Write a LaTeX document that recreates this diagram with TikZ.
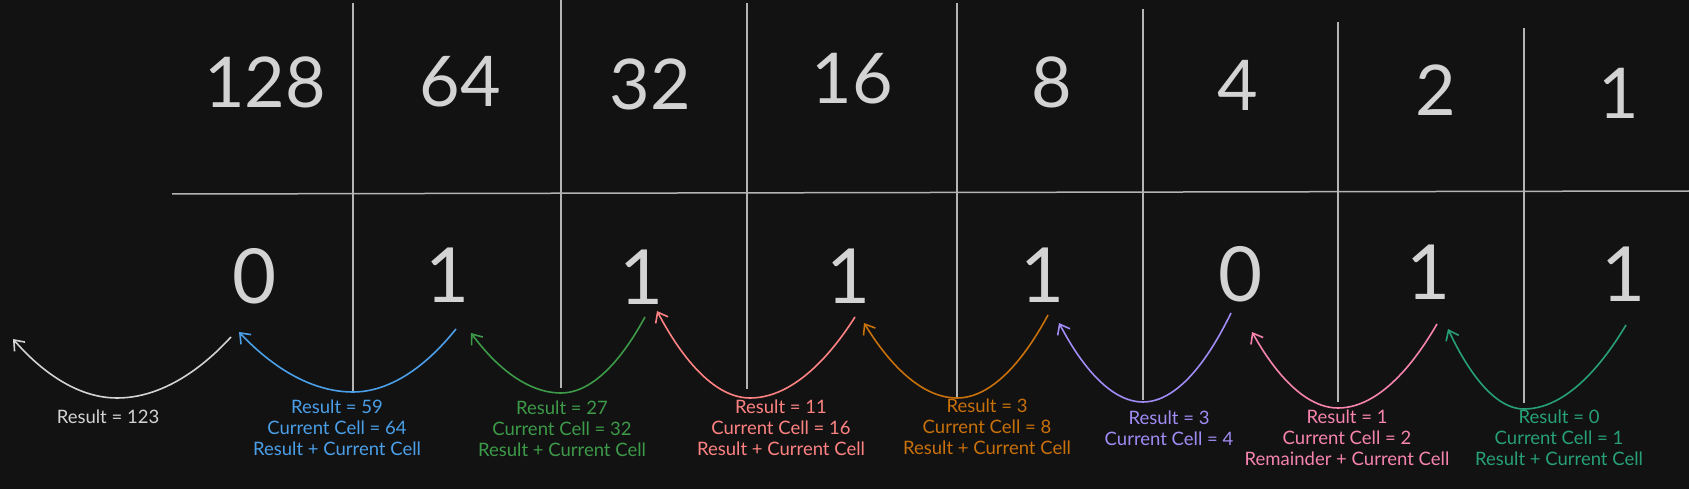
\documentclass[tikz,border=0pt]{standalone}
\usepackage{fontspec}
\setmainfont{Lato}
\usepackage{xcolor}
\usepackage{tikz}
\usetikzlibrary{arrows.meta}
\definecolor{bg}{HTML}{121212}
\definecolor{txtgray}{HTML}{D3D3D3}
\definecolor{linegray}{HTML}{B4B4B4}
\definecolor{cblue}{HTML}{4A9FE8}
\definecolor{cgreen}{HTML}{3C9A48}
\definecolor{cred}{HTML}{FF8282}
\definecolor{corange}{HTML}{C8700A}
\definecolor{cpurple}{HTML}{A18BF5}
\definecolor{cpink}{HTML}{F784AE}
\definecolor{cteal}{HTML}{27A077}
\tikzset{
    weight/.style = {
        text = txtgray, inner sep = 0pt,
        font = \fontsize{70}{70}\selectfont
    },
    bit/.style = {
        text = txtgray, inner sep = 0pt,
        font = \fontsize{76}{76}\selectfont
    },
    rule/.style = {draw = linegray, line width = 1.5pt},
    note/.style = {
        align = center, inner sep = 0pt,
        font = \fontsize{18.5}{21}\selectfont
    },
    hop/.style = {line width = 1.6pt, -{Straight Barb[length=9pt, width=14pt]}}
}

\begin{document}
\begin{tikzpicture}[x=1pt, y=-1pt]

    % Background
    \fill[bg] (0,0) rectangle (1689,489);
    \useasboundingbox (0,0) rectangle (1689,489);

    % Table lines
    \draw[rule] (172,194) -- (1689,191);
    \draw[rule] (353,3) -- (353,391);
    \draw[rule] (561,0) -- (561,388);
    \draw[rule] (747,3) -- (747,389);
    \draw[rule] (957,3) -- (957,397);
    \draw[rule] (1143,9) -- (1143,400);
    \draw[rule] (1338,22) -- (1338,402);
    \draw[rule] (1524,28) -- (1524,403);

    % Weights
    \node[weight] (w128) at (265,82) {128};
    \node[weight] (w64) at (460,82) {64};
    \node[weight] (w32) at (650,84) {32};
    \node[weight] (w16) at (852,79) {16};
    \node[weight] (w8) at (1052,82) {8};
    \node[weight] (w4) at (1238,85) {4};
    \node[weight] (w2) at (1436,90) {2};
    \node[weight] (w1) at (1619,93) {1};

    % Bits
    \node[bit] (b128) at (255,276) {0};
    \node[bit] (b64) at (448,275) {1};
    \node[bit] (b32) at (642,277) {1};
    \node[bit] (b16) at (849,276) {1};
    \node[bit] (b8) at (1043,275) {1};
    \node[bit] (b4) at (1241,274) {0};
    \node[bit] (b2) at (1429,272) {1};
    \node[bit] (b1) at (1624,274) {1};

    % Curve ends
    \coordinate (from1) at (1626,325);
    \coordinate (low1) at (1524,409);
    \coordinate (to1) at (1448,329);
    \coordinate (from2) at (1437,324);
    \coordinate (low2) at (1338,408);
    \coordinate (to2) at (1252,332);
    \coordinate (from4) at (1231,313);
    \coordinate (low4) at (1143,402);
    \coordinate (to4) at (1059,323);
    \coordinate (from8) at (1048,315);
    \coordinate (low8) at (957,398);
    \coordinate (to8) at (864,323);
    \coordinate (from16) at (855,317);
    \coordinate (low16) at (750,398);
    \coordinate (to16) at (657,311);
    \coordinate (from32) at (645,317);
    \coordinate (low32) at (561,393);
    \coordinate (to32) at (471,333);
    \coordinate (from64) at (456,329);
    \coordinate (low64) at (353,392);
    \coordinate (to64) at (239,332);
    \coordinate (fromEnd) at (231,337);
    \coordinate (lowEnd) at (117,398);
    \coordinate (toEnd) at (13,339);

    % Curves
    \draw[hop, cteal] (from1) parabola bend (low1) (to1);
    \draw[hop, cpink] (from2) parabola bend (low2) (to2);
    \draw[hop, cpurple] (from4) parabola bend (low4) (to4);
    \draw[hop, corange] (from8) parabola bend (low8) (to8);
    \draw[hop, cred] (from16) parabola bend (low16) (to16);
    \draw[hop, cgreen] (from32) parabola bend (low32) (to32);
    \draw[hop, cblue] (from64) parabola bend (low64) (to64);
    \draw[hop, txtgray] (fromEnd) parabola bend (lowEnd) (toEnd);

    % Step labels
    \node[note, text = cteal] (step1) at (1559,438) {Result = 0\\Current Cell = 1\\Result + Current Cell};
    \node[note, text = cpink] (step2) at (1347,438) {Result = 1\\Current Cell = 2\\Remainder + Current Cell};
    \node[note, text = cpurple] (step4) at (1169,428) {Result = 3\\Current Cell = 4};
    \node[note, text = corange] (step8) at (987,427) {Result = 3\\Current Cell = 8\\Result + Current Cell};
    \node[note, text = cred] (step16) at (781,428) {Result = 11\\Current Cell = 16\\Result + Current Cell};
    \node[note, text = cgreen] (step32) at (562,429) {Result = 27\\Current Cell = 32\\Result + Current Cell};
    \node[note, text = cblue] (step64) at (337,428) {Result = 59\\Current Cell = 64\\Result + Current Cell};
    \node[note, text = txtgray] (stepEnd) at (108,417) {Result = 123};

\end{tikzpicture}
\end{document}
